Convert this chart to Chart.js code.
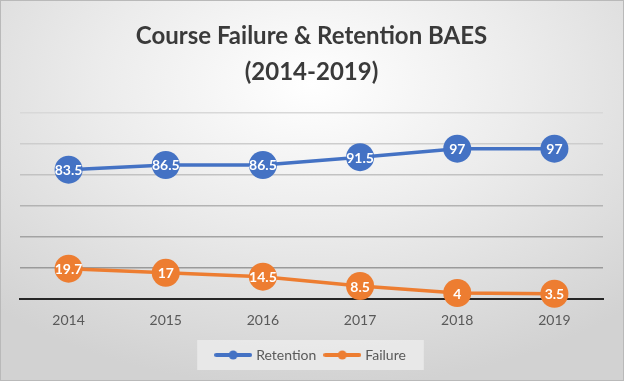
<!DOCTYPE html>
<html>
<head>
<meta charset="utf-8">
<script src="https://cdn.jsdelivr.net/npm/chart.js@4/dist/chart.umd.min.js"></script>
<style>
  html, body { margin: 0; padding: 0; }
  body {
    width: 624px; height: 381px; overflow: hidden;
    background: radial-gradient(ellipse 75% 80% at 50% 22%, #ffffff 0%, #ececec 45%, #d2d2d2 100%);
  }
  #wrap { position: relative; width: 622px; height: 379px; border: 1px solid #b9b9b9; }
  canvas { display: block; }
</style>
</head>
<body>
<div id="wrap"><canvas id="chart" width="622" height="379"></canvas></div>
<script>
// ---- Data ----
const categories = ['2014', '2015', '2016', '2017', '2018', '2019'];
const retention = [83.5, 86.5, 86.5, 91.5, 97, 97];
const failure = [19.7, 17, 14.5, 8.5, 4, 3.5];
const seriesNames = ['Retention', 'Failure'];
const titleLines = ['Course Failure & Retention BAES', '(2014-2019)'];

const BLUE = '#4472C4';
const ORANGE = '#ED7D31';
const FONT = 'Lato';

function legendMarker(color) {
  const c = document.createElement('canvas');
  c.width = 38; c.height = 12;
  const g = c.getContext('2d');
  g.strokeStyle = color; g.lineWidth = 4; g.lineCap = 'round';
  g.beginPath(); g.moveTo(2, 6); g.lineTo(36, 6); g.stroke();
  g.fillStyle = color;
  g.beginPath(); g.arc(19, 6, 4.5, 0, Math.PI * 2); g.fill();
  return c;
}
const markers = [legendMarker(BLUE), legendMarker(ORANGE)];

const dataLabels = {
  id: 'dataLabels',
  afterDatasetsDraw(chart) {
    const ctx = chart.ctx;
    ctx.save();
    ctx.font = 'bold 14px ' + FONT;
    ctx.fillStyle = '#ffffff';
    ctx.textAlign = 'center';
    ctx.textBaseline = 'middle';
    chart.data.datasets.forEach((ds, i) => {
      chart.getDatasetMeta(i).data.forEach((pt, j) => {
        ctx.fillText(String(ds.data[j]), pt.x, pt.y + 1);
      });
    });
    ctx.restore();
  }
};

const legendBg = {
  id: 'legendBg',
  beforeDraw(chart) {
    const lg = chart.legend;
    if (!lg || !lg.legendHitBoxes || !lg.legendHitBoxes.length) return;
    const hb = lg.legendHitBoxes;
    const l = Math.min(...hb.map(h => h.left)) - 20;
    const r = Math.max(...hb.map(h => h.left + h.width)) + 18;
    const t = Math.min(...hb.map(h => h.top)) - 8;
    const b = Math.max(...hb.map(h => h.top + h.height)) + 8;
    const ctx = chart.ctx;
    ctx.save();
    ctx.fillStyle = 'rgba(235,235,235,0.85)';
    ctx.fillRect(l, t, r - l, b - t);
    ctx.restore();
  }
};

const gridColors = ['#262626', '#9a9a9a', '#a3a3a3', '#b3b3b3', '#c2c2c2', '#cdcdcd', '#d8d8d8'];

new Chart(document.getElementById('chart'), {
  type: 'line',
  data: {
    labels: categories,
    datasets: [
      { label: seriesNames[0], data: retention, borderColor: BLUE, backgroundColor: BLUE,
        borderWidth: 3.5, pointRadius: 14, pointHoverRadius: 14, pointBorderWidth: 0, clip: false, tension: 0 },
      { label: seriesNames[1], data: failure, borderColor: ORANGE, backgroundColor: ORANGE,
        borderWidth: 3.5, pointRadius: 14, pointHoverRadius: 14, pointBorderWidth: 0, clip: false, tension: 0 }
    ]
  },
  options: {
    responsive: false,
    animation: false,
    events: [],
    layout: { padding: { top: 0, left: 19, right: 20, bottom: 8 } },
    plugins: {
      title: {
        display: true,
        text: titleLines,
        color: '#3a3a3a',
        font: { family: FONT, size: 24, weight: 'bold', lineHeight: 1.5 },
        padding: { top: 17, bottom: 23 }
      },
      legend: {
        display: true,
        position: 'bottom',
        labels: {
          usePointStyle: true,
          pointStyleWidth: 32,
          padding: 10,
          color: '#595959',
          font: { family: FONT, size: 14 },
          generateLabels(chart) {
            return chart.data.datasets.map((ds, i) => ({
              text: ds.label, fillStyle: ds.borderColor, strokeStyle: ds.borderColor,
              lineWidth: 0, pointStyle: markers[i], datasetIndex: i, hidden: false, fontColor: '#595959'
            }));
          }
        }
      },
      tooltip: { enabled: false }
    },
    scales: {
      x: {
        offset: true,
        grid: { display: false, drawTicks: false },
        border: { display: true, color: '#262626', width: 2 },
        ticks: { color: '#595959', font: { family: FONT, size: 14 }, padding: 13 },
        afterFit(s) { s.height -= 4; }
      },
      y: {
        min: 0, max: 120,
        ticks: { display: false, stepSize: 20 },
        border: { display: false },
        grid: {
          drawTicks: false,
          lineWidth: 1.5,
          color: ctx => gridColors[ctx.index] || '#cccccc'
        }
      }
    }
  },
  plugins: [legendBg, dataLabels]
});
</script>
</body>
</html>
